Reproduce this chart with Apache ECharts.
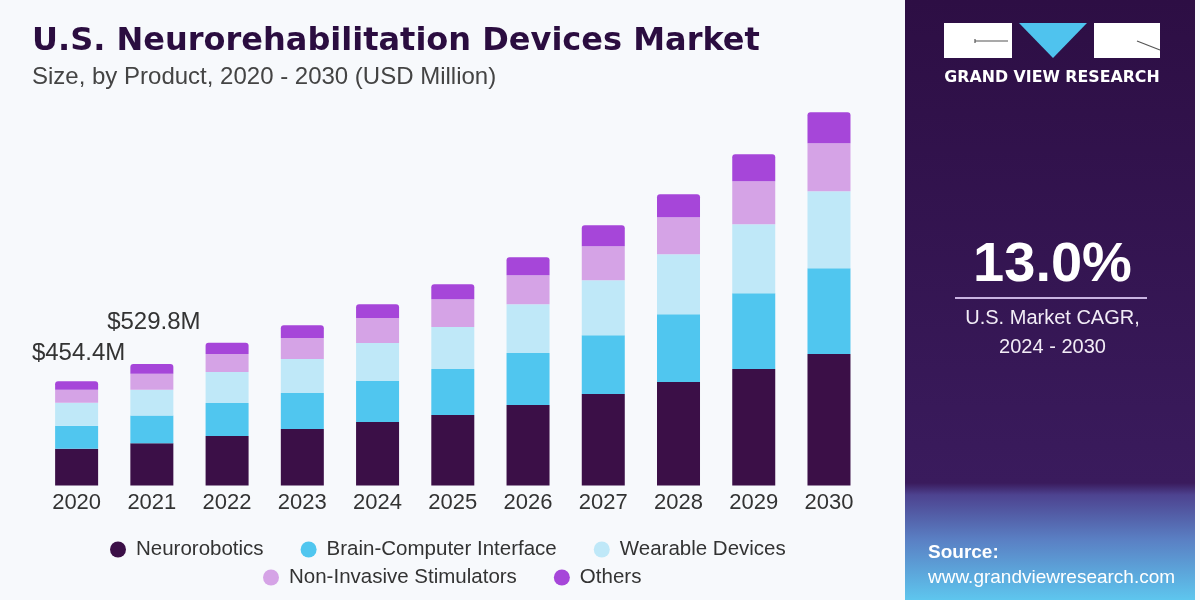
<!DOCTYPE html>
<html>
<head>
<meta charset="utf-8">
<script src="https://cdn.jsdelivr.net/npm/echarts@6/dist/echarts.min.js"></script>
<style>html,body{margin:0;padding:0;background:#f7f9fc;}#c{width:1200px;height:600px;}</style>
</head>
<body>
<div id="c"></div>
<script>
const years = ['2020','2021','2022','2023','2024','2025','2026','2027','2028','2029','2030'];
const seriesNames = ['Neurorobotics','Brain-Computer Interface','Wearable Devices','Non-Invasive Stimulators','Others'];
const neurorobotics = [160, 184, 215.8, 246.3, 276.9, 307.4, 351, 398.9, 451.3, 507.9, 573.3];
const brainComputer = [100.5, 121, 143.9, 157, 178.8, 200.6, 226.7, 257.2, 296.5, 331.4, 375];
const wearable = [100.5, 113, 135.2, 148.2, 165.7, 183.1, 213.6, 239.8, 261.6, 300.8, 335.7];
const nonInvasive = [57, 69.5, 78.5, 91.6, 109, 122.1, 126.4, 148.2, 161.3, 187.5, 209.3];
const others = [36.4, 42.3, 49.3, 56.7, 61, 65.4, 78.5, 91.6, 100.3, 117.7, 135.2];
const calloutYears = ['2020', '2021'];
const cagrText = '13.0%';
const cagrLabel = ['U.S. Market CAGR,', '2024 - 2030'];

const colors = ['#3b0f47', '#50c6ef', '#bfe8f8', '#d5a3e6', '#a646d9'];
const allData = [neurorobotics, brainComputer, wearable, nonInvasive, others];
const totals = years.map((y, i) => allData.reduce((s, a) => s + a[i], 0));
const calloutOffsets = { '2020': [2, -16], '2021': [2, -30] };

const series = allData.map((arr, si) => {
  const s = {
    name: seriesNames[si],
    type: 'bar',
    stack: 'total',
    barWidth: 43,
    itemStyle: { color: colors[si] },
    emphasis: { disabled: true },
    data: arr.slice()
  };
  if (si === allData.length - 1) {
    s.itemStyle.borderRadius = [3, 3, 0, 0];
    s.data = arr.map((v, i) => {
      const y = years[i];
      if (calloutYears.indexOf(y) >= 0) {
        return {
          value: v,
          label: {
            show: true, position: 'top', distance: 0,
            offset: calloutOffsets[y],
            formatter: () => '$' + totals[i].toFixed(1) + 'M',
            fontFamily: 'Liberation Sans', fontSize: 24, color: '#333333'
          }
        };
      }
      return v;
    });
  }
  return s;
});

const chart = echarts.init(document.getElementById('c'), null, { renderer: 'canvas' });
const PX = 905, PW = 290;
const legendText = { fontFamily: 'Liberation Sans', fontSize: 20.5, color: '#333333', padding: [0, 0, 0, 5] };
chart.setOption({
  backgroundColor: '#f7f9fc',
  animation: false,
  color: colors,
  title: [
    { text: 'U.S. Neurorehabilitation Devices Market', left: 27, top: 21,
      textStyle: { fontFamily: 'DejaVu Sans', fontWeight: 'bold', fontSize: 32, color: '#2b0d40' } },
    { text: 'Size, by Product, 2020 - 2030 (USD Million)', left: 27, top: 60,
      textStyle: { fontFamily: 'Liberation Sans', fontWeight: 'normal', fontSize: 24, color: '#444444' } }
  ],
  legend: [
    { data: seriesNames.slice(0, 3), left: 105, top: 534, icon: 'circle', itemWidth: 16, itemHeight: 16, itemGap: 37,
      textStyle: legendText },
    { data: seriesNames.slice(3), left: 258, top: 562, icon: 'circle', itemWidth: 16, itemHeight: 16, itemGap: 37,
      textStyle: legendText }
  ],
  grid: { left: 39, right: 333.4, top: 73, bottom: 114.5, containLabel: false },
  xAxis: {
    type: 'category', data: years,
    axisLine: { show: false }, axisTick: { show: false },
    axisLabel: { margin: 6, fontFamily: 'Liberation Sans', fontSize: 22, color: '#333333' }
  },
  yAxis: { type: 'value', min: 0, max: 1800, show: false, splitLine: { show: false } },
  series: series,
  graphic: [
    { type: 'rect', shape: { x: PX, y: 0, width: PW, height: 600 }, silent: true,
      style: { fill: new echarts.graphic.LinearGradient(0, 0, 0, 1, [
        { offset: 0, color: '#2d0e44' }, { offset: 0.805, color: '#3a1b5d' }, { offset: 0.825, color: '#4d4390' },
        { offset: 0.9, color: '#5a80c4' }, { offset: 1, color: '#5ec6ee' }]) } },
    { type: 'rect', shape: { x: 944, y: 23, width: 68, height: 35 }, style: { fill: '#ffffff' } },
    { type: 'polyline', shape: { points: [[975, 39], [975, 43], [975, 41], [1008, 41]] }, style: { stroke: '#555555', lineWidth: 1.2, fill: null } },
    { type: 'polygon', shape: { points: [[1019, 23], [1087, 23], [1053, 58]] }, style: { fill: '#4fc3ee' } },
    { type: 'rect', shape: { x: 1094, y: 23, width: 66, height: 35 }, style: { fill: '#ffffff' } },
    { type: 'line', shape: { x1: 1137, y1: 41, x2: 1160, y2: 50 }, style: { stroke: '#555555', lineWidth: 1.2 } },
    { type: 'text', x: 1052, y: 78, style: { text: 'GRAND VIEW RESEARCH', fill: '#ffffff', font: 'bold 15.8px "DejaVu Sans"', align: 'center', verticalAlign: 'middle' } },
    { type: 'text', x: 1052.5, y: 266, style: { text: cagrText, fill: '#ffffff', font: 'bold 56px "Liberation Sans"', align: 'center', verticalAlign: 'middle' } },
    { type: 'line', shape: { x1: 955, y1: 298, x2: 1147, y2: 298 }, style: { stroke: '#c9b3e2', lineWidth: 2 } },
    { type: 'text', x: 1052.5, y: 318, style: { text: cagrLabel[0], fill: '#f2ecf6', font: '20px "Liberation Sans"', align: 'center', verticalAlign: 'middle' } },
    { type: 'text', x: 1052.5, y: 347, style: { text: cagrLabel[1], fill: '#f2ecf6', font: '20px "Liberation Sans"', align: 'center', verticalAlign: 'middle' } },
    { type: 'text', x: 928, y: 553, style: { text: 'Source:', fill: '#ffffff', font: 'bold 19px "Liberation Sans"', align: 'left', verticalAlign: 'middle' } },
    { type: 'text', x: 928, y: 578, style: { text: 'www.grandviewresearch.com', fill: '#ffffff', font: '19px "Liberation Sans"', align: 'left', verticalAlign: 'middle' } }
  ]
});
</script>
</body>
</html>
